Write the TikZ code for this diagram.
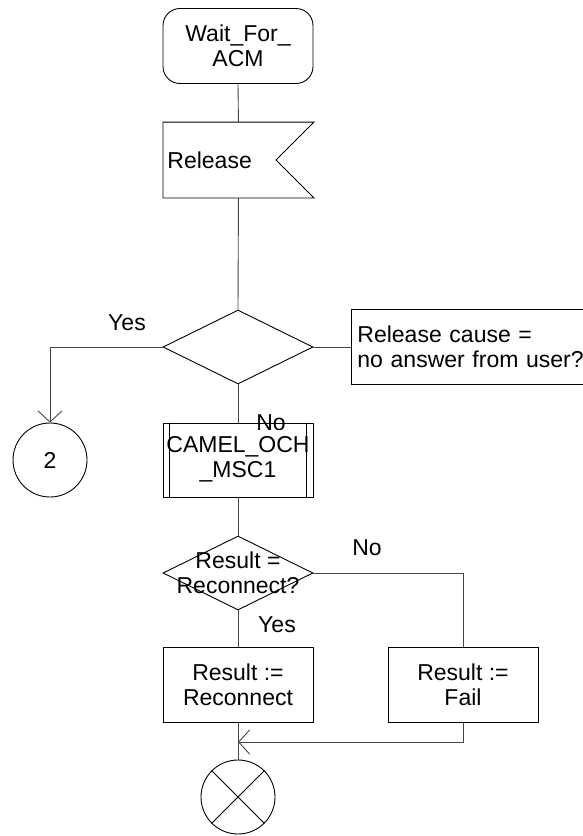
\documentclass[tikz,border=0pt]{standalone}
\usepackage{fontspec}
\setmainfont{Liberation Sans}
\usepackage{tikz}
\usetikzlibrary{arrows.meta, shapes.geometric, positioning, calc}
\definecolor{FlowGray}{RGB}{70,70,70}

\tikzset{
  sdlbox/.style={draw, rectangle, minimum width=150pt, minimum height=75pt, inner sep=0pt, align=center},
  sdlstate/.style={sdlbox, rounded corners=17pt},
  decision/.style={draw, diamond, minimum width=150pt, minimum height=74pt, inner sep=0pt},
  connector/.style={draw, circle, minimum size=74pt, inner sep=0pt},
  flow/.style={draw=FlowGray},
  flowarrow/.style={flow, -{Straight Barb[length=11pt, width=24pt]}},
}

\begin{document}
\begin{tikzpicture}[x=1pt, y=-1pt, line width=0.9pt, font=\fontsize{23}{25}\selectfont]
  \useasboundingbox (0,0) rectangle (583,836);

  % main column
  \node[sdlstate] (wait) at (238,46) {Wait\_For\_\\ACM};
  \node[sdlbox, draw=none, anchor=west, text width=142pt, inner xsep=4pt, align=left] (rel) at (163,160) {Release};
  \draw (rel.north west) -- (rel.north east) -- ($(rel.east)+(-38,0)$) -- (rel.south east) -- (rel.south west) -- cycle;
  \node[decision] (dec1) at (238,347) {};
  \node[sdlbox, anchor=west, text width=250pt, inner xsep=6pt, align=left] (cmt) at (351,347) {Release cause =\\no answer from user?};
  \node[connector] (con2) at (50,460) {2};
  \node[sdlbox, minimum height=74pt, text depth=6pt] (och) at (238,460) {CAMEL\_OCH\\\_MSC1};
  \draw ([xshift=7pt]och.north west) -- ([xshift=7pt]och.south west);
  \draw ([xshift=-7pt]och.north east) -- ([xshift=-7pt]och.south east);
  \node[decision, label={[align=center, name=dec2txt]center:Result =\\Reconnect?}] (dec2) at (238,573) {};
  \node[sdlbox] (recon) at (238,685) {Result :=\\Reconnect};
  \node[sdlbox] (fail) at (463,685) {Result :=\\Fail};
  \node[connector] (stop) at (238,797) {};
  \draw (stop.north west) -- (stop.south east) (stop.north east) -- (stop.south west);
  \coordinate (merge) at (238,742);

  % branch labels
  \node (yes1) at (127,323) {Yes};
  \node (no1) at (271,423) {No};
  \node (no2) at (367,548) {No};
  \node (yes2) at (277,625) {Yes};

  % flow lines
  \draw[flow] (wait.south) -- (rel.north);
  \draw[flow] (rel.south) -- (dec1.north);
  \draw[flowarrow] (dec1.west) -| (con2.north);
  \draw[flow] (dec1.east) -- (cmt.west);
  \draw[flow] (dec1.south) -- (och.north);
  \draw[flow] (och.south) -- (dec2.north);
  \draw[flow] (dec2.south) -- (recon.north);
  \draw[flow] (dec2.east) -| (fail.north);
  \draw[flow] (recon.south) -- (stop.north);
  \draw[flowarrow] (fail.south) |- (merge);
\end{tikzpicture}
\end{document}
